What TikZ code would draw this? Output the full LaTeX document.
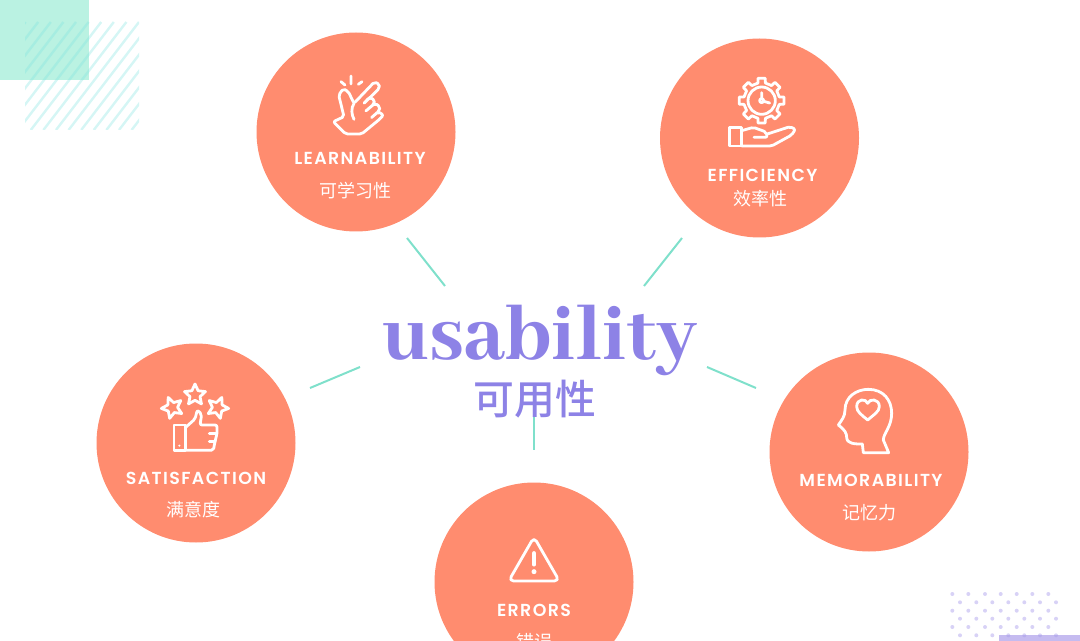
\documentclass[tikz,border=0pt]{standalone}
\usepackage{fontspec}
\newfontfamily\lab[LetterSpace=8]{Poppins SemiBold}
\newfontfamily\cjk{Noto Sans CJK SC}
\newfontfamily\cjkm{Noto Sans CJK SC Medium}
\newfontfamily\disp{Abhaya Libre ExtraBold}
\definecolor{coral}{HTML}{FF8C6F}
\definecolor{tealline}{HTML}{7FE0CB}
\definecolor{violet2}{HTML}{8D82E6}
\definecolor{mint}{HTML}{BAF2E2}
\definecolor{stripe}{HTML}{7FE3E0}
\definecolor{dotc}{HTML}{A89CEB}
\definecolor{lilac}{HTML}{C5BBF0}
\tikzset{
  disc/.style={circle,fill=coral,minimum size=99.5pt,inner sep=0pt,draw=none},
  linkline/.style={draw=tealline,line width=1pt},
  icon/.style={draw=white,line width=1.4pt,line join=round,line cap=round},
  title/.style={text=white,font=\lab\fontsize{8.7}{10}\selectfont,inner sep=0pt},
  sub/.style={text=white,font=\cjk\fontsize{9}{11}\selectfont,inner sep=0pt}
}
\newcommand{\starshape}[4]{%
  \draw[icon] ({#1+#3*cos(#4)},{#2+#3*sin(#4)})
    foreach \k in {1,...,9} { -- ({#1+(mod(\k,2)==1 ? 0.48 : 1)*#3*cos(#4+36*\k)},{#2+(mod(\k,2)==1 ? 0.48 : 1)*#3*sin(#4+36*\k)}) } -- cycle;}
\begin{document}
\begin{tikzpicture}[x=0.5pt,y=-0.5pt]
\useasboundingbox (0,0) rectangle (1080,641);
\clip (0,0) rectangle (1080,641);
% decorations
\fill[mint] (0,0) rectangle (89,80);
\begin{scope}
  \clip (25,22) rectangle (139,130);
  \foreach \s in {-70,-57.4,...,150}
    \draw[stripe,line width=1.2pt,opacity=.33] (\s,130) -- (\s+83,22);
\end{scope}
\fill[lilac] (999,634.5) rectangle (1080,641);
\foreach \x in {952.3,968.3,985,1000.7,1016.7,1032.3,1048.3}
  \foreach \y in {594,610.7,627}
    \fill[dotc,opacity=.45] (\x,\y) circle (2);
\foreach \x in {960,976.3,992.3,1008.3,1024.3,1040,1056}
  \foreach \y in {602.3,618.7,635.3}
    \fill[dotc,opacity=.45] (\x,\y) circle (2);
% discs
\node[disc] (learn) at (356,132) {};
\node[disc] (eff) at (759.5,138) {};
\node[disc] (sat) at (196,443) {};
\node[disc] (err) at (534,582) {};
\node[disc] (mem) at (869,452) {};
% connectors
\coordinate (a1) at (407,238); \coordinate (a2) at (445,286);
\coordinate (b1) at (682,238); \coordinate (b2) at (644,286);
\coordinate (c1) at (360,367); \coordinate (c2) at (310,388);
\coordinate (d1) at (707,367); \coordinate (d2) at (756,388);
\coordinate (e1) at (534,416); \coordinate (e2) at (534,450);
\draw[linkline] (a1) -- (a2);
\draw[linkline] (b1) -- (b2);
\draw[linkline] (c1) -- (c2);
\draw[linkline] (d1) -- (d2);
\draw[linkline] (e1) -- (e2);
% centre title
\node[anchor=base,inner sep=0pt,text=violet2,font=\disp\fontsize{42.8}{48}\selectfont] (us) at (540,359) {usability};
\node[inner sep=0pt,text=violet2,font=\cjkm\fontsize{20.4}{24}\selectfont] (cn) at (535,399) {可用性};
% labels
\node[title] (t1) at (360,158) {LEARNABILITY};
\node[sub] (s1) at (355,191) {可学习性};
\node[title] (t2) at (762.5,175) {EFFICIENCY};
\node[sub] (s2) at (760.5,199) {效率性};
\node[title] (t3) at (196,478) {SATISFACTION};
\node[sub] (s3) at (193,510) {满意度};
\node[title] (t4) at (871,480) {MEMORABILITY};
\node[sub] (s4) at (869,513) {记忆力};
\node[title] (t5) at (534,610) {ERRORS};
\node[sub] (s5) at (534,642) {错误};
% icon: snapping hand
\begin{scope}[shift={(280,60)},scale=1/3]
  \draw[icon,rounded corners=1pt] (160,185) -- (192,170) -- (176,105) -- (190,86) -- (205,95) -- (222,130) -- (283,66) -- (298,72) -- (298,85) -- (250,132) -- (268,112) -- (284,120) -- (282,132) -- (255,155) -- (285,130) -- (300,140) -- (298,152) -- (272,175) -- (295,155) -- (310,165) -- (302,175) -- (245,222) -- (197,222) -- cycle;
  \draw[icon] (222,130) .. controls (212,145) and (215,165) .. (222,178);
  \draw[icon] (213,48) -- (213,72) (183,65) -- (195,75) (246,65) -- (235,73);
\end{scope}
% icon: gear and hand
\begin{scope}[shift={(690,60)},scale=1/3]
  \begin{scope}[shift={(215,122)}]
    \draw[icon] (-12:54) foreach \a in {0,45,...,315} { -- (\a-12:54) -- (\a-9:68) -- (\a+9:68) -- (\a+12:54) } -- cycle;
    \draw[icon] (0,0) circle (41);
    \draw[icon] (0,0) circle (6);
    \draw[icon] (0,-6) -- (0,-24) (6,2) -- (24,7);
  \end{scope}
  \draw[icon] (118,202) rectangle (155,258);
  \draw[icon,rounded corners=1pt] (155,212) -- (190,202) -- (228,216) -- (232,232) -- (192,232);
  \draw[icon,rounded corners=1pt] (232,222) -- (300,200) -- (316,208) -- (305,225) -- (245,258) -- (155,258);
\end{scope}
% icon: stars and thumb
\begin{scope}[shift={(120,375)},scale=1/3]
  \starshape{225}{60}{33}{-90}
  \starshape{157}{98}{33}{-112}
  \starshape{293}{98}{33}{-68}
  \draw[icon] (162,150) rectangle (197,226);
  \fill[white] (178,212) circle (3.5);
  \draw[icon,rounded corners=1pt] (197,157) -- (225,132) -- (232,105) -- (245,118) -- (240,150) -- (291,150) -- (291,176) -- (285,200) -- (280,226) -- (197,226);
  \draw[icon] (291,176) -- (268,176) (285,200) -- (268,200);
\end{scope}
% icon: head with heart
\begin{scope}[shift={(790,380)},scale=1/3]
  \draw[icon] (296,218) -- (220,218) -- (217,192)
    .. controls (195,192) and (170,192) .. (170,172)
    .. controls (170,160) and (165,150) .. (145,135)
    .. controls (155,120) and (165,110) .. (165,90)
    .. controls (165,50) and (200,28) .. (235,28)
    .. controls (280,28) and (305,60) .. (305,100)
    .. controls (305,140) and (280,160) .. (280,180) -- cycle;
  \draw[icon] (233,120) .. controls (215,105) and (200,95) .. (200,80)
    .. controls (200,55) and (228,55) .. (233,70)
    .. controls (238,55) and (268,55) .. (268,80)
    .. controls (268,95) and (250,105) .. (233,120) -- cycle;
\end{scope}
% icon: warning triangle
\begin{scope}[shift={(470,525)},scale=1/3]
  \draw[icon,rounded corners=2.5pt] (192,36) -- (268,168) -- (116,168) -- cycle;
  \draw[white,line width=2.2pt,line cap=round] (192,85) -- (192,118);
  \fill[white] (192,140) circle (7.5);
\end{scope}
\end{tikzpicture}
\end{document}
